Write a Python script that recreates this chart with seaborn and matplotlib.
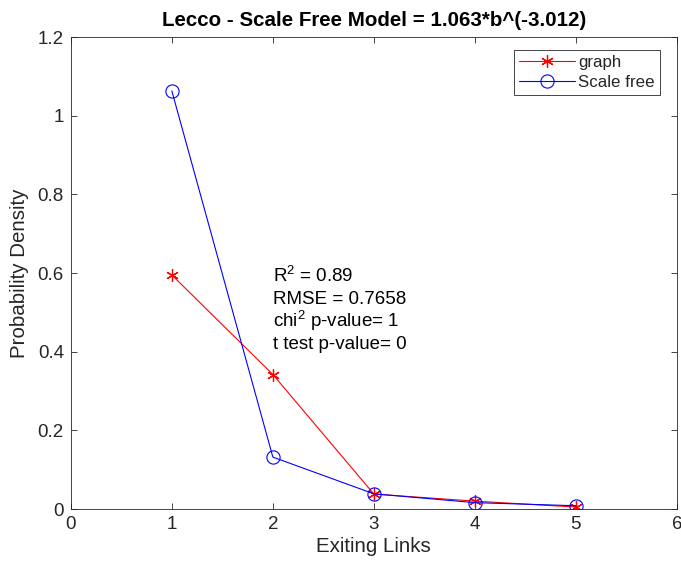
import matplotlib
matplotlib.use("Agg")
import matplotlib.pyplot as plt
import seaborn as sns
import pandas as pd
import numpy as np

links = [1, 2, 3, 4, 5]
graph_vals = [0.595, 0.342, 0.038, 0.020, 0.005]
scale_free_vals = [1.063, 0.132, 0.0386, 0.0162, 0.0083]
x_ticks = [0, 1, 2, 3, 4, 5, 6]
y_ticks = [0, 0.2, 0.4, 0.6, 0.8, 1.0, 1.2]
y_tick_labels = ["0", "0.2", "0.4", "0.6", "0.8", "1", "1.2"]
stats_lines = ["R$^2$ = 0.89", "RMSE = 0.7658", "chi$^2$ p-value= 1", "t test p-value= 0"]

sns.set_style("white")
plt.rcParams['font.family'] = ['Liberation Sans', 'DejaVu Sans']
plt.rcParams['mathtext.fontset'] = 'custom'
plt.rcParams['mathtext.rm'] = 'Liberation Sans'
plt.rcParams['mathtext.it'] = 'Liberation Sans'

df = pd.DataFrame({"links": links, "graph": graph_vals, "sf": scale_free_vals})

fig = plt.figure(figsize=(6.81, 5.70), dpi=100)
ax = fig.add_axes([0.104, 0.107, 0.890, 0.828])

sns.lineplot(data=df, x="links", y="graph", ax=ax, color="#ff0000", marker=(6, 2, 0),
             markersize=9, markeredgecolor="#ff0000", markerfacecolor="#ff0000",
             markeredgewidth=0.9, linewidth=0.8, label="graph")
sns.lineplot(data=df, x="links", y="sf", ax=ax, color="#0000ff", marker="o",
             markersize=9.5, markeredgecolor="#0000ff", markerfacecolor="none",
             markeredgewidth=0.8, linewidth=0.8, label="Scale free")

ax.set_xlim(0, 6)
ax.set_ylim(0, 1.2)
ax.set_xticks(x_ticks)
ax.set_xticklabels([str(t) for t in x_ticks])
ax.set_yticks(y_ticks)
ax.set_yticklabels(y_tick_labels)
ax.tick_params(direction="in", length=4, width=0.6, colors="#262626", labelsize=13.5,
               top=True, right=True, bottom=True, left=True, pad=5)
for lab in ax.get_xticklabels() + ax.get_yticklabels():
    lab.set_color("#262626")
for s in ax.spines.values():
    s.set_color("#262626")
    s.set_linewidth(0.6)
    s.set_visible(True)

ax.set_xlabel("Exiting Links", fontsize=14.8, color="#262626", labelpad=3)
ax.set_ylabel("Probability Density", fontsize=14.8, color="#262626", labelpad=6)
ax.set_title("Lecco - Scale Free Model = 1.063*b^(-3.012)", fontsize=14.8,
             fontweight="bold", color="#000000", pad=8)

stat_y = [0.577, 0.521, 0.463, 0.407]
for txt, yy in zip(stats_lines, stat_y):
    ax.text(2.0, yy, txt, fontsize=13.5, va="baseline", ha="left", color="#000000")

leg = ax.legend(loc="upper right", fontsize=12.15, frameon=True, fancybox=False,
                edgecolor="#262626", framealpha=1, borderpad=0.3,
                handlelength=3.3, handletextpad=0.2, labelspacing=0.3,
                borderaxespad=0, bbox_to_anchor=(0.972, 0.9725))
leg.get_frame().set_linewidth(0.6)

fig.savefig("out.png", dpi=100)
